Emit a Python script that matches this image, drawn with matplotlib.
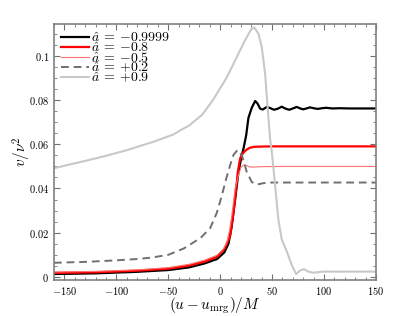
import numpy as np
import matplotlib
matplotlib.use('Agg')
import matplotlib.pyplot as plt
from matplotlib.ticker import MultipleLocator, FuncFormatter

plt.rcParams['mathtext.fontset'] = 'cm'
plt.rcParams['font.family'] = 'serif'

# spin a = -0.9999
x_m9999 = [-160, -120, -80, -50, -30, -15, -3, 4, 8, 11, 14.4, 17.6, 20.8, 22.4, 25, 27.2, 30.4,
           33.7, 36, 38.5, 41, 44.9, 48, 52, 55.5, 59.3, 63, 66.5, 70, 73.7, 77, 80, 83, 86.5,
           90, 94, 98, 102, 108, 115, 125, 150]
y_m9999 = [0.0012, 0.0015, 0.0022, 0.0030, 0.0042, 0.0060, 0.0080, 0.0110, 0.0150, 0.0225, 0.035,
           0.0475, 0.055, 0.058, 0.064, 0.072, 0.0766, 0.0797, 0.0785, 0.0762, 0.0758, 0.0770,
           0.0765, 0.0757, 0.0762, 0.0771, 0.0762, 0.0757, 0.0763, 0.0770, 0.0763, 0.0759,
           0.0763, 0.0768, 0.0764, 0.0761, 0.0764, 0.0766, 0.0763, 0.0764, 0.0763, 0.0763]

# spin a = -0.8
x_m08 = [-160, -120, -80, -50, -30, -15, -3, 4, 9.6, 12.8, 15.4, 17, 19.2, 21, 23.4, 26, 28.8,
         33, 38.5, 50, 150]
y_m08 = [0.0017, 0.0020, 0.0027, 0.0036, 0.0050, 0.0068, 0.0090, 0.0125, 0.0184, 0.029, 0.040,
         0.0475, 0.0536, 0.0555, 0.0567, 0.0578, 0.0585, 0.0589, 0.0590, 0.0591, 0.0591]

# spin a = -0.5
x_m05 = [-160, -120, -80, -50, -30, -15, -3, 3, 6.4, 9, 11.2, 14.4, 17.6, 20, 22.5, 25, 28, 32,
         40, 60, 150]
y_m05 = [0.0021, 0.0024, 0.0031, 0.0041, 0.0056, 0.0075, 0.0097, 0.0125, 0.0153, 0.021, 0.0276,
         0.040, 0.046, 0.0495, 0.0507, 0.0505, 0.0498, 0.0497, 0.0499, 0.0500, 0.0500]

# spin a = +0.2
x_p02 = [-160, -130, -100, -80, -67, -50, -35, -19, -9.6, -3.2, 1.6, 5.8, 9.6, 12.8, 16.7, 20.8,
         25.6, 30.5, 35.3, 41.7, 50, 150]
y_p02 = [0.0063, 0.0067, 0.0074, 0.0080, 0.0086, 0.0099, 0.0128, 0.0175, 0.0220, 0.029, 0.0368,
         0.0444, 0.0506, 0.0552, 0.0575, 0.0552, 0.0475, 0.0429, 0.0418, 0.0424, 0.0427, 0.0427]

# spin a = +0.9
x_p09 = [-160, -130, -110, -89, -63.5, -45, -38, -30, -17, -6.4, 6.4, 16, 24, 29.5, 32.7, 36.8,
         40, 43.3, 45.5, 48, 49.7, 52.9, 56, 59.3, 64.1, 68.9, 73, 77, 80.8, 84.9, 89.7, 99.4, 150]
y_p09 = [0.0492, 0.0525, 0.0548, 0.0575, 0.0613, 0.0645, 0.0665, 0.0685, 0.0736, 0.0805, 0.0904,
         0.0996, 0.1073, 0.1119, 0.1131, 0.1103, 0.1042, 0.092, 0.078, 0.0628, 0.0567, 0.0414,
         0.026, 0.0168, 0.0115, 0.0053, 0.0012, 0.0028, 0.0034, 0.0023, 0.0018, 0.0023, 0.0023]

spins = ['{-}0.9999', '{-}0.8', '{-}0.5', '{+}0.2', '{+}0.9']

fig = plt.figure(figsize=(4.15, 3.16), dpi=100)
ax = fig.add_axes([0.130, 0.114, 0.776, 0.810])

labels = [r'$\hat{a}\:=\:%s$' % s for s in spins]
ax.plot(x_m9999, y_m9999, color='black', lw=1.6, label=labels[0])
ax.plot(x_m08, y_m08, color='#ff0000', lw=1.6, label=labels[1])
ax.plot(x_m05, y_m05, color='#ff7070', lw=0.8, label=labels[2])
ax.plot(x_p02, y_p02, color='#707070', lw=1.4, ls=(0, (4, 2.5)), label=labels[3])
ax.plot(x_p09, y_p09, color='#c8c8c8', lw=1.5, label=labels[4])

ax.set_xlim(-160, 150)
ax.set_ylim(-0.0015, 0.1146)

ax.xaxis.set_major_locator(MultipleLocator(50))
ax.xaxis.set_minor_locator(MultipleLocator(10))
ax.yaxis.set_major_locator(MultipleLocator(0.02))
ax.yaxis.set_minor_locator(MultipleLocator(0.005))
ax.xaxis.set_major_formatter(FuncFormatter(lambda v, p: r'$%d$' % round(v)))
ax.yaxis.set_major_formatter(FuncFormatter(lambda v, p: r'$0$' if abs(v) < 1e-9 else r'$%g$' % round(v, 3)))
ax.tick_params(which='both', direction='in', top=True, right=True, labelsize=7.5, color='#707070')
ax.tick_params(which='major', length=4, width=0.8)
ax.tick_params(which='minor', length=2, width=0.6)
for s in ax.spines.values():
    s.set_color('#808080')
    s.set_linewidth(1.2)

ax.set_xlabel(r'$(u - u_{\rm mrg})/M$', fontsize=11)
ax.set_ylabel(r'$v/\nu^2$', fontsize=11)
ax.xaxis.set_label_coords(0.5, -0.06)
ax.yaxis.set_label_coords(-0.065, 0.5)

ax.legend(loc='upper left', frameon=False, fontsize=10, handlelength=2.0, handletextpad=0.15,
          labelspacing=-0.3, borderaxespad=0.2, borderpad=0.3)

fig.savefig('out.png', dpi=100)
